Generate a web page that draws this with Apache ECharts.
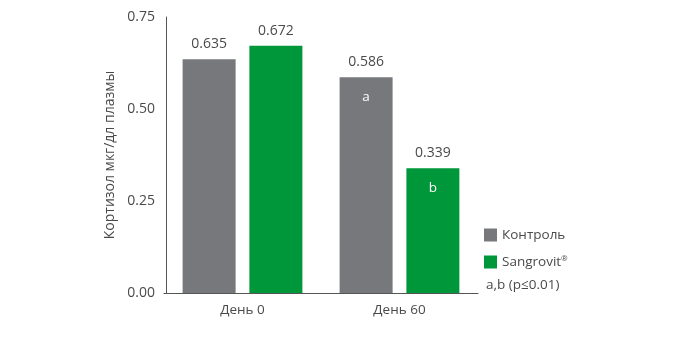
<!DOCTYPE html>
<html><head><meta charset="utf-8">
<script src="https://cdn.jsdelivr.net/npm/echarts@6/dist/echarts.min.js"></script>
<style>html,body{margin:0;padding:0;background:#fff}#c{width:700px;height:355px}</style>
</head><body><div id="c"></div>
<script>
var categories = ['День 0', 'День 60'];
var controlValues = [0.635, 0.586];
var sangrovitValues = [0.672, 0.339];
var yTicks = [0, 0.25, 0.5, 0.75];
var seriesNames = ['Контроль', 'Sangrovit®'];
var yAxisName = 'Кортизол мкг/дл плазмы';
var noteText = 'a,b (p≤0.01)';

var FONT = 'Open Sans';
var GREY = '#77787b', GREEN = '#00973a', TXT = '#4a4a4a';
var chart = echarts.init(document.getElementById('c'));
chart.setOption({
  animation: false,
  textStyle: {fontFamily: FONT},
  grid: {left: 164, right: 222, top: 17, bottom: 62},
  legend: {
    orient: 'vertical', left: 479, top: 223, itemWidth: 13, itemHeight: 13, itemGap: 13,
    icon: 'rect',
    textStyle: {fontSize: 13.5, color: TXT, fontFamily: FONT,
      rich: {s: {fontSize: 8, verticalAlign: 'top', color: TXT, padding: [0,0,6,0]}}},
    formatter: function (n) { return n.indexOf('®') >= 0 ? n.replace('®', '') + '{s|®}' : n; },
    data: seriesNames
  },
  graphic: [{type: 'text', left: 486, top: 278, style: {text: noteText, font: '13.5px "Open Sans"', fill: TXT}}],
  xAxis: {
    type: 'category', data: categories,
    axisLine: {lineStyle: {color: '#555', width: 1}}, axisTick: {show: false},
    axisLabel: {fontSize: 13.5, color: TXT, margin: 10}
  },
  yAxis: {
    type: 'value', min: 0, max: 0.75, interval: 0.25, offset: -2,
    name: yAxisName, nameLocation: 'middle', nameGap: 49,
    nameTextStyle: {fontSize: 14, color: TXT},
    axisLine: {show: true, lineStyle: {color: '#555', width: 1}}, axisTick: {show: false},
    splitLine: {show: false},
    axisLabel: {fontSize: 14, color: TXT, margin: 11, formatter: function (v) { return v.toFixed(2); }}
  },
  series: [
    {name: seriesNames[0], type: 'bar', data: controlValues, barWidth: 53, barGap: '26%',
     itemStyle: {color: GREY},
     label: {show: true, position: 'top', distance: 8, fontSize: 14, color: TXT, formatter: function (p) { return p.value.toFixed(3); }},
     markPoint: {symbol: 'rect', symbolSize: 0, silent: true,
       label: {show: true, color: '#fff', fontSize: 13.5, offset: [0, 20], formatter: 'a'},
       data: [{coord: [categories[1], controlValues[1]]}]}},
    {name: seriesNames[1], type: 'bar', data: sangrovitValues, barWidth: 53,
     itemStyle: {color: GREEN},
     label: {show: true, position: 'top', distance: 8, fontSize: 14, color: TXT, formatter: function (p) { return p.value.toFixed(3); }},
     markPoint: {symbol: 'rect', symbolSize: 0, silent: true,
       label: {show: true, color: '#fff', fontSize: 13.5, offset: [0, 20], formatter: 'b'},
       data: [{coord: [categories[1], sangrovitValues[1]]}]}}
  ]
});
</script></body></html>
